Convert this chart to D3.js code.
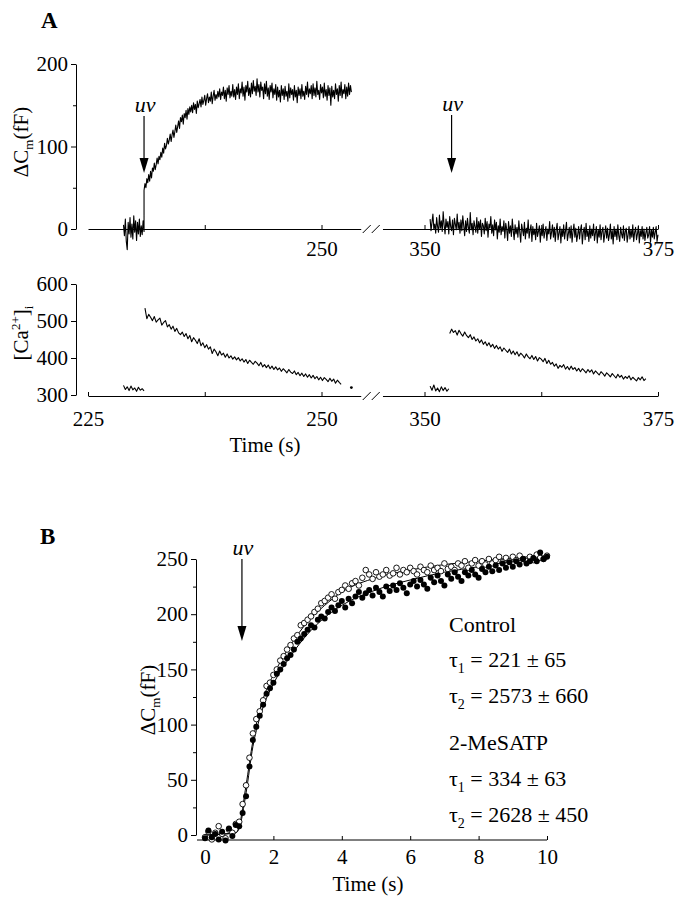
<!DOCTYPE html>
<html>
<head>
<meta charset="utf-8">
<script src="https://cdn.jsdelivr.net/npm/d3@7"></script>
<style>
  body { margin: 0; background: #fff; }
  text { font-family: "Liberation Serif", "Times New Roman", serif; fill: #000; }
  .domain, .tick line { stroke: #000; stroke-width: 1; }
</style>
</head>
<body>
<script>
const width = 675;
const height = 899;

// ---- panel A, capacitance traces (fF), sampled every 0.1 s ----
const capStep = 0.1;
const capBaseStart = 228.8;
const capBase = [5, -8, 12, -15, -25, 8, -6, 14, -10, 6, -12, 16, -4, 10, -14, 8, -6, 12, -9, 4, -7, 10, -3];
const capRiseStart = 231.0;
const capRise = [
  47, 55, 50, 61, 56, 66, 58, 70, 62, 74, 70, 80, 72, 78, 86, 79, 88, 84, 93, 87,
  98, 92, 104, 97, 101, 110, 103, 108, 115, 106, 114, 120, 111, 118, 126, 117, 124, 131, 122, 135,
  130, 138, 127, 140, 135, 144, 133, 146, 139, 148, 142, 150, 141, 153, 145, 151, 140, 155, 147, 152,
  157, 148, 160, 151, 156, 162, 150, 158, 164, 153, 160, 155, 166, 152, 161, 168, 156, 163, 158, 167,
  160, 170, 157, 166, 162, 172, 158, 168, 155, 171, 163, 174, 159, 167, 161, 175, 160, 169, 157, 172,
  163, 176, 158, 170, 165, 178, 161, 172, 156, 174, 166, 179, 162, 171, 160, 177, 164, 180, 167, 173,
  162, 182, 166, 175, 160, 178, 168, 172, 158, 176, 164, 179, 161, 171, 157, 174, 166, 177, 159, 170,
  163, 175, 156, 172, 160, 168, 154, 174, 162, 170, 157, 173, 161, 167, 155, 176, 159, 171, 163, 169,
  156, 174, 160, 168, 153, 172, 162, 170, 158, 175, 161, 167, 157, 173, 163, 178, 160, 170, 164, 174,
  158, 176, 162, 171, 160, 179, 163, 168, 157, 175, 165, 172, 159, 177, 161, 169, 156, 174, 162, 171,
  150, 173, 160, 168, 158, 176, 163, 170, 155, 174, 162, 178, 159, 169, 164, 175, 158, 172, 161, 177,
  163, 174, 166];
const capRightStart = 350.6;
const capRight = [
  12, -2, 8, 18, 0, 6, -5, 14, 3, -4, 17, 1, 10, -3, 21, 5, -6, 12, 2, 9,
  -6, 15, 3, -2, 11, -7, 13, 6, -1, 18, 0, 8, -5, 11, -2, 16, 4, -8, 10, -3,
  13, 2, -5, 20, -1, 7, -7, 10, 3, -4, 14, -5, 9, 0, 11, -9, 7, 4, -6, 13,
  -2, 9, -10, 6, 1, 15, -5, 5, -8, 11, -1, 8, -12, 4, -4, 12, -7, 3, -3, 10,
  -11, 7, 0, -14, 9, -5, 4, -9, 12, -2, -13, 5, -6, 2, -10, 10, -4, -16, 6, -1,
  -8, 8, -12, 1, -5, 11, -11, -2, 5, -15, 3, -7, 0, -13, 7, -9, -3, 4, -16, 1,
  -8, 6, -11, -3, 3, -14, 0, -6, 9, -12, -4, 5, -10, 2, -15, -1, 7, -13, -5, 3,
  -17, 0, -9, 5, -12, -2, 8, -14, -6, 2, -11, 4, -16, -3, 6, -10, 1, -15, -7, 3,
  -12, -1, 5, -18, -4, 2, -13, 7, -9, -2, -15, 4, -11, 0, -8, 6, -14, -5, 3, -17,
  -1, -10, 5, -13, -3, 2, -16, -6, 4, -11, 1, -14, -7, 6, -12, -2, -18, 3, -9, 0,
  -13, 5, -8, -15, 2, -6, -11, 4, -14, -3, 1, -16, -7, 3, -12, -1, -10, 5, -15, -4,
  2, -13, -6, 4, -17, -2, -9, 3, -12, 0, -14, -5, 2, -11, -7, 3, -16, -1, -10, 2,
  -12, -4, 3, -15, -7];

// ---- panel A, [Ca2+]i traces, sampled every 0.2 s ----
const caStep = 0.2;
const caBaseLStart = 228.8;
const caBaseL = [326, 315, 322, 312, 324, 314, 319, 310, 321, 313, 317, 311];
const caDecayLStart = 231.1;
const caDecayL = [
  535, 506, 518, 510, 501, 512, 497, 503, 508, 489, 496, 501, 484, 490, 478,
  486, 472, 480, 468, 463, 470, 458, 466, 452, 461, 444, 455, 448, 439, 452,
  433, 441, 428, 436, 424, 430, 412, 424, 417, 406, 419, 408, 413, 402, 411,
  400, 406, 397, 403, 395, 401, 392, 398, 389, 396, 385, 394, 388, 383, 391,
  386, 379, 388, 376, 382, 374, 381, 371, 378, 369, 376, 368, 373, 364, 371,
  366, 360, 369, 362, 358, 365, 355, 361, 352, 359, 350, 357, 348, 355, 346,
  353, 344, 350, 341, 348, 339, 347, 342, 336, 345, 337, 343, 332, 340, 334,
  329];
const caDot = { t: 253.2, v: 320 };
const caBaseRStart = 350.6;
const caBaseR = [324, 313, 327, 311, 319, 309, 322, 312, 320, 310, 317];
const caDecayRStart = 352.7;
const caDecayR = [
  466, 478, 469, 474, 462, 475, 466, 459, 470, 461, 455, 463, 450, 457, 446,
  452, 441, 449, 437, 444, 433, 441, 430, 437, 426, 434, 424, 430, 418, 427,
  421, 415, 424, 411, 419, 409, 417, 405, 413, 408, 400, 411, 403, 398, 407,
  396, 404, 392, 401, 397, 390, 399, 385, 394, 383, 388, 378, 384, 372, 380,
  375, 382, 370, 377, 368, 378, 369, 374, 365, 372, 363, 371, 366, 360, 369,
  362, 368, 357, 365, 360, 354, 363, 358, 351, 360, 355, 349, 358, 352, 346,
  356, 348, 353, 343, 350, 345, 352, 341, 348, 343, 338, 347, 341, 349, 339,
  344];

// ---- panel B, capacitance vs time (0..10 s every 0.1 s) ----
const bStep = 0.1;
const controlB = [-2, 3, -4, 2, 8, 1, -3, 5, 2, 10, 12, 28, 45, 70, 92, 105, 112, 122, 135, 138,
  145, 150, 158, 162, 168, 172, 178, 181, 190, 192, 195, 198, 202, 205, 210, 212, 215, 218, 214, 220,
  222, 226, 223, 228, 230, 226, 233, 240, 236, 232, 238, 234, 236, 240, 235, 237, 242, 236, 240, 238,
  242, 239, 236, 243, 240, 238, 244, 240, 242, 239, 246, 241, 243, 240, 246, 244, 248, 242, 246, 249,
  244, 248, 245, 250, 246, 249, 252, 247, 251, 248, 252, 249, 253, 250, 248, 252, 249, 254, 251, 250,
  253];
const mesatpB = [-3, 4, -2, 1, -4, 3, -5, 6, -1, 9, 8, 20, 35, 62, 86, 98, 108, 118, 128, 133,
  138, 146, 150, 155, 160, 163, 168, 175, 178, 182, 186, 190, 188, 195, 198, 196, 202, 206, 203, 208,
  212, 206, 214, 210, 216, 220, 215, 219, 222, 217, 224, 220, 216, 225, 221, 226, 222, 228, 224, 219,
  227, 230, 225, 231, 227, 223, 233, 229, 235, 230, 226, 236, 232, 238, 234, 230, 238, 235, 240, 236,
  233, 241, 238, 243, 239, 244, 240, 246, 242, 247, 243, 248, 245, 250, 246, 248, 251, 248, 256, 250,
  252];
const fitTimes = [0, 0.9, 1.0, 1.2, 1.4, 1.6, 1.8, 2.0, 2.5, 3, 3.5, 4, 5, 6, 7, 8, 9, 10];
const fitControl = [0, 2, 8, 45, 85, 113, 132, 145, 172, 193, 208, 220, 233, 240, 245, 248, 251, 253];
const fitMesatp = [0, 2, 6, 38, 80, 106, 124, 137, 162, 182, 197, 208, 222, 231, 238, 243, 248, 252];

const capTicks = [0, 100, 200], capMinor = [50, 150];
const caTicks = [300, 400, 500, 600];
const bTicks = [0, 50, 100, 150, 200, 250], bMinor = [25, 75, 125, 175, 225];
const bTimeTicks = [0, 2, 4, 6, 8, 10];
const legendLines = [
  { main: "Control" },
  { sub: "1", rest: " = 221 ± 65" },
  { sub: "2", rest: " = 2573 ± 660" },
  { main: "2-MeSATP" },
  { sub: "1", rest: " = 334 ± 63" },
  { sub: "2", rest: " = 2628 ± 450" }
];

const svg = d3.select("body").append("svg")
  .attr("width", width).attr("height", height);

// broken time axis for panel A
const pxPerSec = 9.34;
const xL = d3.scaleLinear().domain([225, 254.2]).range([88, 88 + 29.2 * pxPerSec]);
const xR = d3.scaleLinear().domain([345.5, 375]).range([658 - 29.5 * pxPerSec, 658]);
const yCap = d3.scaleLinear().domain([0, 200]).range([229, 64]);
const yCa = d3.scaleLinear().domain([300, 600]).range([395, 284]);
const xB = d3.scaleLinear().domain([0, 10]).range([205, 547]);
const yB = d3.scaleLinear().domain([0, 250]).range([835, 559]);

const pts = (start, step, vals) => vals.map((v, i) => ({ t: start + i * step, v: v }));

const drawTrace = (x, y, data, w) => {
  svg.append("path")
    .attr("d", d3.line().x(d => x(d.t)).y(d => y(d.v))(data))
    .attr("fill", "none").attr("stroke", "#000")
    .attr("stroke-width", w).attr("stroke-linejoin", "round");
};

const styleAxis = (g, size) => {
  g.selectAll("text").style("font-size", size + "px")
    .style("font-family", '"Liberation Serif", "Times New Roman", serif');
};

const labelFmt = keep => d => keep.includes(d) ? String(d) : "";

// panel A time axes
const timeAxis = (yPos, leftTicks, rightTicks, labels, pad) => {
  const gl = svg.append("g").attr("transform", `translate(0,${yPos})`)
    .call(d3.axisBottom(xL).tickValues(leftTicks).tickSizeInner(-4).tickSizeOuter(0)
      .tickPadding(pad).tickFormat(labelFmt(labels)));
  const gr = svg.append("g").attr("transform", `translate(0,${yPos})`)
    .call(d3.axisBottom(xR).tickValues(rightTicks).tickSizeInner(-4).tickSizeOuter(0)
      .tickPadding(pad).tickFormat(labelFmt(labels)));
  styleAxis(gl, 21); styleAxis(gr, 21);
  const bx = xL.range()[1];
  [2, 11].forEach(off => {
    svg.append("line")
      .attr("x1", bx + off).attr("y1", yPos + 4)
      .attr("x2", bx + off + 8).attr("y2", yPos - 4)
      .attr("stroke", "#000").attr("stroke-width", 1);
  });
};
timeAxis(229, [237.5, 250], [350, 362.5, 375], [250, 350, 375], 12);
timeAxis(396, [225, 237.5, 250], [350, 362.5, 375], [225, 250, 350, 375], 15);

// value axes
const valueAxis = (xPos, scale, major, minor) => {
  const g = svg.append("g").attr("transform", `translate(${xPos},0)`)
    .call(d3.axisLeft(scale).tickValues(major).tickSizeInner(5).tickSizeOuter(0).tickPadding(3));
  styleAxis(g, 21);
  if (minor) {
    svg.append("g").attr("transform", `translate(${xPos},0)`)
      .call(d3.axisLeft(scale).tickValues(minor).tickSize(3).tickFormat(""))
      .select(".domain").remove();
  }
};
valueAxis(76, yCap, capTicks, capMinor);
valueAxis(76, yCa, caTicks, null);
valueAxis(196, yB, bTicks, bMinor);

// traces A
drawTrace(xL, yCap, pts(capBaseStart, capStep, capBase).concat(pts(capRiseStart, capStep, capRise)), 1.1);
drawTrace(xR, yCap, pts(capRightStart, capStep, capRight), 1.1);
drawTrace(xL, yCa, pts(caBaseLStart, caStep, caBaseL), 1.1);
drawTrace(xL, yCa, pts(caDecayLStart, caStep, caDecayL), 1.1);
drawTrace(xR, yCa, pts(caBaseRStart, caStep, caBaseR), 1.1);
drawTrace(xR, yCa, pts(caDecayRStart, caStep, caDecayR), 1.1);
svg.append("circle").attr("cx", xL(caDot.t)).attr("cy", yCa(caDot.v)).attr("r", 1.4);

// uv arrows
const arrow = (x, y1, y2, ty) => {
  svg.append("line").attr("x1", x).attr("x2", x).attr("y1", y1).attr("y2", y2 - 12)
    .attr("stroke", "#000").attr("stroke-width", 1.2);
  svg.append("path")
    .attr("d", `M${x - 4.5},${y2 - 15}L${x + 4.5},${y2 - 15}L${x},${y2}Z`)
    .attr("fill", "#000");
  svg.append("text").attr("x", x + 1).attr("y", ty).attr("text-anchor", "middle")
    .style("font-size", "22px").style("font-style", "italic").text("uv");
};
arrow(xL(231.0), 116, 173, 112);
arrow(xR(352.9), 115, 173, 111);
arrow(xB(1.08), 559, 641, 555);

// panel letters
svg.append("text").attr("x", 41).attr("y", 28).style("font-size", "23px").style("font-weight", "bold").text("A");
svg.append("text").attr("x", 40).attr("y", 544).style("font-size", "23px").style("font-weight", "bold").text("B");

// rotated y labels
const capLabel = (cx, cy) => {
  const t = svg.append("text").attr("transform", `translate(${cx},${cy}) rotate(-90)`)
    .attr("text-anchor", "middle").style("font-size", "21px");
  t.append("tspan").text("ΔC");
  t.append("tspan").attr("dy", 5).style("font-size", "13px").text("m");
  t.append("tspan").attr("dy", -5).text("(fF)");
};
capLabel(28, 142);
capLabel(155, 700);

const caLabel = svg.append("text").attr("transform", "translate(28,333) rotate(-90)")
  .attr("text-anchor", "middle").style("font-size", "21px");
caLabel.append("tspan").text("[Ca");
caLabel.append("tspan").attr("dy", -8).style("font-size", "13px").text("2+");
caLabel.append("tspan").attr("dy", 8).text("]");
caLabel.append("tspan").attr("dy", 5).style("font-size", "13px").text("i");

svg.append("text").attr("x", 265).attr("y", 452).attr("text-anchor", "middle")
  .style("font-size", "21px").text("Time (s)");

// panel B axes
const gxB = svg.append("g").attr("transform", "translate(0,840)")
  .call(d3.axisBottom(xB).tickValues(bTimeTicks).tickSizeInner(-4).tickSizeOuter(0).tickPadding(9));
styleAxis(gxB, 21);
gxB.select(".domain").attr("d", `M${xB(0) - 8},0H${xB(10)}`);
svg.append("text").attr("x", 368).attr("y", 891).attr("text-anchor", "middle")
  .style("font-size", "21px").text("Time (s)");

// fits
const fitLine = vals => d3.line().curve(d3.curveMonotoneX)
  .x((d, i) => xB(fitTimes[i])).y(d => yB(d))(vals);
svg.append("path").attr("d", fitLine(fitControl)).attr("fill", "none").attr("stroke", "#000").attr("stroke-width", 1);
svg.append("path").attr("d", fitLine(fitMesatp)).attr("fill", "none").attr("stroke", "#000").attr("stroke-width", 1);

// data points
svg.append("g").selectAll("circle").data(controlB).enter().append("circle")
  .attr("cx", (d, i) => xB(i * bStep)).attr("cy", d => yB(d)).attr("r", 2.8)
  .attr("fill", "#fff").attr("stroke", "#000").attr("stroke-width", 0.9);
svg.append("g").selectAll("circle").data(mesatpB).enter().append("circle")
  .attr("cx", (d, i) => xB(i * bStep)).attr("cy", d => yB(d)).attr("r", 3)
  .attr("fill", "#000");

// legend
const legendY = [632, 667, 703, 750, 786, 822];
legendLines.forEach((l, i) => {
  const t = svg.append("text").attr("x", 449).attr("y", legendY[i]).style("font-size", "22px");
  if (l.main) { t.text(l.main); return; }
  t.append("tspan").text("τ");
  t.append("tspan").attr("dy", 6).style("font-size", "14px").text(l.sub);
  t.append("tspan").attr("dy", -6).text(l.rest);
});
</script>
</body>
</html>
